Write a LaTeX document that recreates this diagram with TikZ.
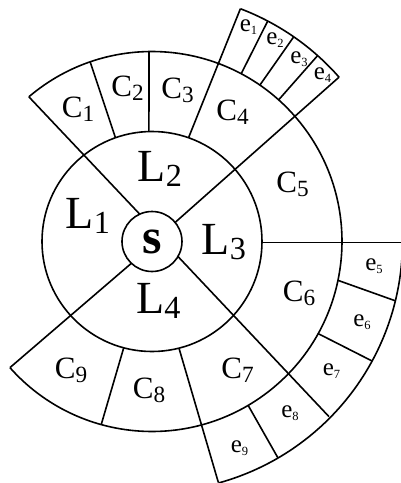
\documentclass[tikz,border=0pt]{standalone}
\usepackage{fontspec}
\setmainfont{Liberation Serif}
\newcommand\lbl[3]{#1\raisebox{-0.12em}{\scalebox{#3}{#2}}}
\tikzset{
  bigL/.style={inner sep=0pt,font=\fontsize{46}{46}\selectfont},
  midC/.style={inner sep=0pt,font=\fontsize{31}{31}\selectfont},
  smallE/.style={inner sep=0pt,font=\fontsize{25}{25}\selectfont},
  seed/.style={inner sep=0pt,font=\bfseries\fontsize{50}{50}\selectfont},
  ring/.style={line width=1.6pt}
}
\begin{document}
\begin{tikzpicture}[x=1pt,y=1pt,line width=1.6pt,line join=round]
\useasboundingbox (-152,-241.5) rectangle (249,241.5);
% circles and arcs
\draw[ring] (0,0) circle[radius=30];
\draw[ring] (0,0) circle[radius=110];
\draw[ring] (130.4:190) arc[start angle=130.4,end angle=-138.4,radius=190];
\draw[ring] (69.2:249) arc[start angle=69.2,end angle=41.3,radius=249];
\draw[ring] (0:250.5) arc[start angle=0,end angle=-74.6,radius=250.5];
% long dividers
\draw (114.2:30) -- (130.4:190);
\draw (39.5:30) -- (41.3:249);
\draw (226.6:30) -- (221.6:190);
\draw (-30:30) -- (-44.7:249);
\draw (110,-0.8) -- (252,-0.8);
% C dividers
\draw (109.4:110) -- (109:190);
\draw (91.6:110) -- (90.9:190);
\draw (70.6:110) -- (69.2:249);
\draw (-104.9:110) -- (-105.5:190);
\draw (-75.8:110) -- (-74.6:250);
% e dividers
\draw (62:190) -- (62.3:249);
\draw (55.4:190) -- (55.3:249);
\draw (48.2:190) -- (48.3:249);
\draw (-11.8:190) -- (-13.7:250.5);
\draw (-29:190) -- (-28.5:250.5);
\draw (-59.6:190) -- (-59.8:250.5);
% labels
\node[seed] (s) at (0.7,-0.5) {s};
\node[bigL] (L1) at (-64,25.5) {\lbl{L}{1}{0.7}};
\node[bigL] (L2) at (8,72.5) {\lbl{L}{2}{0.7}};
\node[bigL] (L3) at (72,-0.5) {\lbl{L}{3}{0.7}};
\node[bigL] (L4) at (6.5,-59.5) {\lbl{L}{4}{0.7}};
\node[midC] (C1) at (-74,132.5) {\lbl{C}{1}{0.75}};
\node[midC] (C2) at (-24.5,153) {\lbl{C}{2}{0.75}};
\node[midC] (C3) at (25.5,151.5) {\lbl{C}{3}{0.75}};
\node[midC] (C4) at (80.5,129) {\lbl{C}{4}{0.75}};
\node[midC] (C5) at (140.5,57) {\lbl{C}{5}{0.75}};
\node[midC] (C6) at (147,-51.8) {\lbl{C}{6}{0.75}};
\node[midC] (C7) at (85.5,-128.5) {\lbl{C}{7}{0.75}};
\node[midC] (C8) at (-3,-148.5) {\lbl{C}{8}{0.75}};
\node[midC] (C9) at (-81,-128.5) {\lbl{C}{9}{0.75}};
\node[smallE] (e1) at (96.5,214) {\lbl{e}{1}{0.5}};
\node[smallE] (e2) at (123,201.5) {\lbl{e}{2}{0.5}};
\node[smallE] (e3) at (147,182.5) {\lbl{e}{3}{0.5}};
\node[smallE] (e4) at (170.5,166.5) {\lbl{e}{4}{0.5}};
\node[smallE] (e5) at (222,-24.5) {\lbl{e}{5}{0.5}};
\node[smallE] (e6) at (210,-81) {\lbl{e}{6}{0.5}};
\node[smallE] (e7) at (179.5,-130) {\lbl{e}{7}{0.5}};
\node[smallE] (e8) at (138,-171.5) {\lbl{e}{8}{0.5}};
\node[smallE] (e9) at (87.5,-206.5) {\lbl{e}{9}{0.5}};
\end{tikzpicture}
\end{document}
